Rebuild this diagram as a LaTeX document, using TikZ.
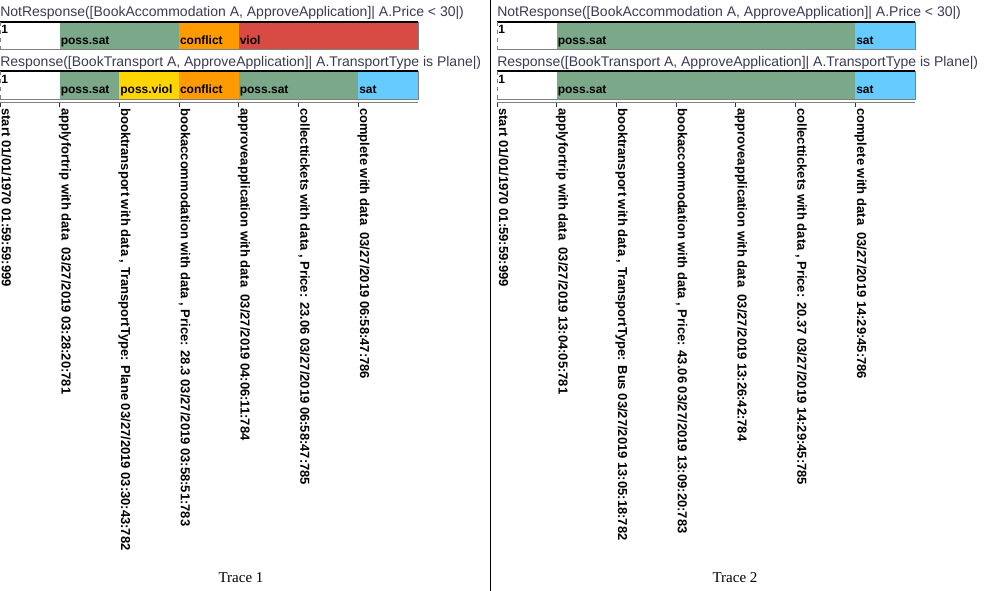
\documentclass[tikz,border=0pt]{standalone}
\usepackage{fontspec}
\setmainfont{Liberation Serif}
\setsansfont{Liberation Sans}
\usetikzlibrary{positioning}
\definecolor{posssat}{HTML}{7BA888}
\definecolor{conflictc}{HTML}{FF9A00}
\definecolor{violc}{HTML}{D84A44}
\definecolor{possviol}{HTML}{FFD500}
\definecolor{satc}{HTML}{66CCFF}
\definecolor{titlec}{HTML}{3A3A55}
\tikzstyle{title} = [anchor=base west, inner sep=0, text=titlec, font=\sffamily\fontsize{10.5}{12}\selectfont]
\tikzstyle{state} = [anchor=base west, inner sep=0, font=\sffamily\bfseries\fontsize{9}{10}\selectfont]
\tikzstyle{event} = [anchor=base west, rotate=-90, inner sep=0, font=\sffamily\bfseries\fontsize{9.75}{11}\selectfont]
\tikzstyle{trace} = [inner sep=0, font=\fontsize{11.25}{13}\selectfont]
\tikzstyle{bartop} = [draw, line width=1.1pt]
\tikzstyle{barside} = [draw=gray, line width=0.75pt]
\tikzstyle{baredge} = [draw=gray, dashed, line width=0.75pt]
\tikzstyle{tick} = [draw=black!80, line width=0.75pt]
\tikzstyle{line} = [draw, line width=0.75pt]

\begin{document}
\begin{tikzpicture}[x=0.75pt, y=-0.75pt]
			\useasboundingbox (0,0) rectangle (984,591);
			
			\node [title] (nr1) at (0, 16.5) {NotResponse([BookAccommodation A, ApproveApplication]| A.Price < 30|)};
			\path [fill=posssat] (59.7, 22) rectangle (179.1, 49.5);
			\path [fill=conflictc] (179.1, 22) rectangle (238.9, 49.5);
			\path [fill=violc] (238.9, 22) rectangle (418, 49.5);
			\path [bartop] (0, 22) -- (418, 22);
			\path [barside] (0, 49.5) -- (418, 49.5) -- (418, 22);
			\path [baredge] (0.5, 22) -- (0.5, 49.5);
			\node [state] (nr1start) at (1, 33.5) {1};
			\node [state] (nr1psat) at (60.5, 44.3) {poss.sat};
			\node [state] (nr1conf) at (179.8, 44.3) {conflict};
			\node [state] (nr1viol) at (239.5, 44.3) {viol};
			
			\node [title] (r1) at (0, 66.5) {Response([BookTransport A, ApproveApplication]| A.TransportType is Plane|)};
			\path [fill=posssat] (59.7, 71) rectangle (119.4, 99.5);
			\path [fill=possviol] (119.4, 71) rectangle (179.1, 99.5);
			\path [fill=conflictc] (179.1, 71) rectangle (238.9, 99.5);
			\path [fill=posssat] (238.9, 71) rectangle (358.3, 99.5);
			\path [fill=satc] (358.3, 71) rectangle (418, 99.5);
			\path [bartop] (0, 71) -- (418, 71);
			\path [barside] (0, 99.5) -- (418, 99.5) -- (418, 71);
			\path [baredge] (0.5, 71) -- (0.5, 99.5);
			\node [state] (r1start) at (1, 83.5) {1};
			\node [state] (r1psat) at (60.5, 93.8) {poss.sat};
			\node [state] (r1pviol) at (120.1, 93.8) {poss.viol};
			\node [state] (r1conf) at (179.8, 93.8) {conflict};
			\node [state] (r1psatb) at (239.5, 93.8) {poss.sat};
			\node [state] (r1sat) at (359, 93.8) {sat};
			
			\path [barside] (0, 103) -- (418, 103);
			\path [tick] (0.5, 103) -- (0.5, 107);
			\path [tick] (59.7, 103) -- (59.7, 107);
			\path [tick] (119.4, 103) -- (119.4, 107);
			\path [tick] (179.1, 103) -- (179.1, 107);
			\path [tick] (238.9, 103) -- (238.9, 107);
			\path [tick] (298.6, 103) -- (298.6, 107);
			\path [tick] (358.3, 103) -- (358.3, 107);
			\node [event] (t1e0) at (2, 108) {start 01/01/1970 01:59:59:999};
			\node [event] (t1e1) at (61.5, 108) {applyfortrip with data~~03/27/2019 03:28:20:781};
			\node [event] (t1e2) at (121.2, 108) {booktransport with data , TransportType: Plane 03/27/2019 03:30:43:782};
			\node [event] (t1e3) at (180.9, 108) {bookaccommodation with data , Price: 28.3 03/27/2019 03:58:51:783};
			\node [event] (t1e4) at (240.7, 108) {approveapplication with data~~03/27/2019 04:06:11:784};
			\node [event] (t1e5) at (300.4, 108) {collecttickets with data , Price: 23.06 03/27/2019 06:58:47:785};
			\node [event] (t1e6) at (360.1, 108) {complete with data~~03/27/2019 06:58:47:786};
			
			\node [title] (nr2) at (497, 16.5) {NotResponse([BookAccommodation A, ApproveApplication]| A.Price < 30|)};
			\path [fill=posssat] (556.7, 22) rectangle (855.3, 49.5);
			\path [fill=satc] (855.3, 22) rectangle (915, 49.5);
			\path [bartop] (497, 22) -- (915, 22);
			\path [barside] (497, 49.5) -- (915, 49.5) -- (915, 22);
			\path [baredge] (497.5, 22) -- (497.5, 49.5);
			\node [state] (nr2start) at (498, 33.5) {1};
			\node [state] (nr2psat) at (557.5, 44.3) {poss.sat};
			\node [state] (nr2sat) at (856, 44.3) {sat};
			
			\node [title] (r2) at (497, 66.5) {Response([BookTransport A, ApproveApplication]| A.TransportType is Plane|)};
			\path [fill=posssat] (556.7, 71) rectangle (855.3, 99.5);
			\path [fill=satc] (855.3, 71) rectangle (915, 99.5);
			\path [bartop] (497, 71) -- (915, 71);
			\path [barside] (497, 99.5) -- (915, 99.5) -- (915, 71);
			\path [baredge] (497.5, 71) -- (497.5, 99.5);
			\node [state] (r2start) at (498, 83.5) {1};
			\node [state] (r2psat) at (557.5, 93.8) {poss.sat};
			\node [state] (r2sat) at (856, 93.8) {sat};
			
			\path [barside] (497, 103) -- (915, 103);
			\path [tick] (497.5, 103) -- (497.5, 107);
			\path [tick] (556.7, 103) -- (556.7, 107);
			\path [tick] (616.4, 103) -- (616.4, 107);
			\path [tick] (676.1, 103) -- (676.1, 107);
			\path [tick] (735.9, 103) -- (735.9, 107);
			\path [tick] (795.6, 103) -- (795.6, 107);
			\path [tick] (855.3, 103) -- (855.3, 107);
			\node [event] (t2e0) at (499, 108) {start 01/01/1970 01:59:59:999};
			\node [event] (t2e1) at (558.5, 108) {applyfortrip with data~~03/27/2019 13:04:05:781};
			\node [event] (t2e2) at (618.2, 108) {booktransport with data , TransportType: Bus 03/27/2019 13:05:18:782};
			\node [event] (t2e3) at (677.9, 108) {bookaccommodation with data , Price: 43.06 03/27/2019 13:09:20:783};
			\node [event] (t2e4) at (737.7, 108) {approveapplication with data~~03/27/2019 13:26:42:784};
			\node [event] (t2e5) at (797.4, 108) {collecttickets with data , Price: 20.37 03/27/2019 14:29:45:785};
			\node [event] (t2e6) at (857.1, 108) {complete with data~~03/27/2019 14:29:45:786};
			
			\coordinate (septop) at (490.5, 0);
			\coordinate (sepbot) at (490.5, 591);
			\path [line] (septop) -- (sepbot);
			
			\node [trace] (trace1) at (241, 578) {Trace 1};
			\node [trace] (trace2) at (735, 578) {Trace 2};
		\end{tikzpicture}
\end{document}
